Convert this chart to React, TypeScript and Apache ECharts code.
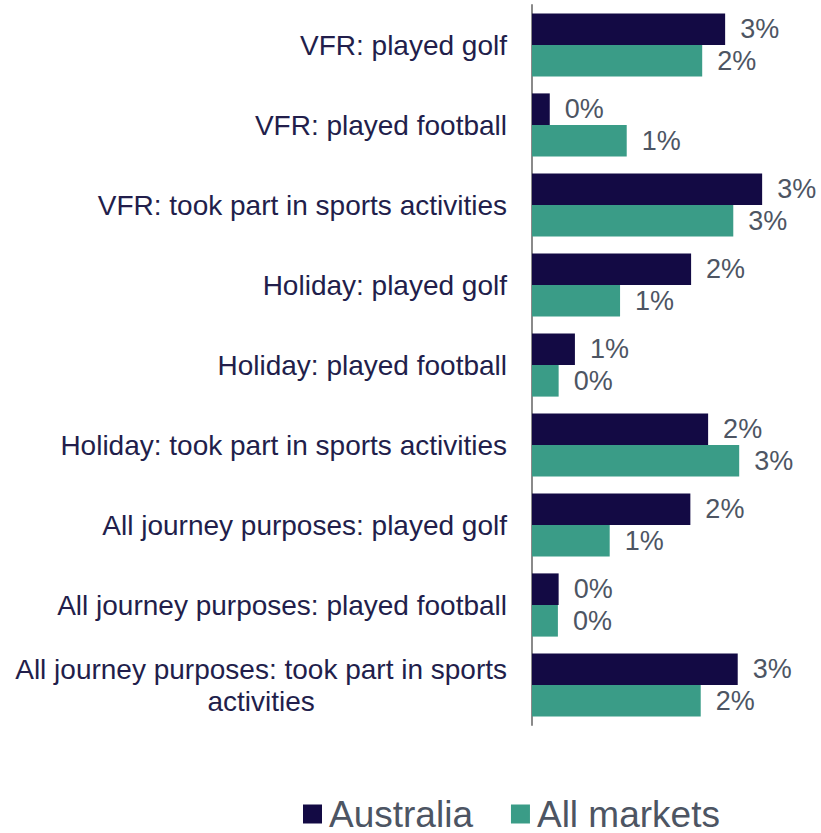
import React, { useEffect, useRef } from "react";
import * as echarts from "echarts";

const categories = [
  "VFR: played golf",
  "VFR: played football",
  "VFR: took part in sports activities",
  "Holiday: played golf",
  "Holiday: played football",
  "Holiday: took part in sports activities",
  "All journey purposes: played golf",
  "All journey purposes: played football",
  "All journey purposes: took part in sports\nactivities",
];

const australia = [2.61, 0.24, 3.11, 2.15, 0.58, 2.38, 2.14, 0.36, 2.78];
const allMarkets = [2.3, 1.28, 2.72, 1.19, 0.36, 2.8, 1.05, 0.35, 2.28];

const seriesNames = ["Australia", "All markets"];
const colors = ["#130a44", "#3a9c87"];

const FONT = "'Liberation Sans', Arial, sans-serif";

export default function App() {
  const ref = useRef<HTMLDivElement>(null);

  useEffect(() => {
    if (!ref.current) return;
    const chart = echarts.init(ref.current, undefined, { renderer: "svg" });
    const valueLabel = {
      show: true,
      position: "right" as const,
      distance: 15,
      color: "#4d5563",
      fontSize: 27,
      fontFamily: FONT,
      formatter: (p: any) => Math.round(p.value) + "%",
    };
    chart.setOption({
      animation: false,
      backgroundColor: "#ffffff",
      textStyle: { fontFamily: FONT },
      grid: { left: 532, top: 5, right: 30, bottom: 108, containLabel: false },
      legend: {
        data: seriesNames,
        left: 303,
        top: 795,
        padding: 0,
        icon: "rect",
        itemWidth: 19,
        itemHeight: 19,
        itemGap: 38,
        textStyle: {
          fontSize: 37,
          color: "#4d5563",
          fontFamily: FONT,
          lineHeight: 38,
          padding: [0, 0, 0, 2],
        },
      },
      xAxis: {
        type: "value",
        min: 0,
        max: 3.5,
        show: false,
        splitLine: { show: false },
      },
      yAxis: {
        type: "category",
        data: categories,
        inverse: true,
        axisLine: { show: true, lineStyle: { color: "#8a8a8a", width: 2 } },
        axisTick: { show: false },
        axisLabel: {
          margin: 25,
          fontSize: 28,
          color: "#221e4b",
          fontFamily: FONT,
          lineHeight: 32,
          formatter: (v: string) =>
            v
              .split("\n")
              .map((line) => "{c|" + line + "}")
              .join("\n"),
          rich: {
            c: {
              align: "center",
              fontSize: 28,
              color: "#221e4b",
              fontFamily: FONT,
              lineHeight: 32,
            },
          },
        },
      },
      series: [
        {
          name: seriesNames[0],
          type: "bar",
          data: australia,
          itemStyle: { color: colors[0] },
          barGap: "0%",
          barCategoryGap: "21%",
          label: valueLabel,
        },
        {
          name: seriesNames[1],
          type: "bar",
          data: allMarkets,
          itemStyle: { color: colors[1] },
          barGap: "0%",
          barCategoryGap: "21%",
          label: valueLabel,
        },
      ],
    });
    return () => chart.dispose();
  }, []);

  return (
    <div
      ref={ref}
      style={{ position: "fixed", left: 0, top: 0, width: 821, height: 833 }}
    />
  );
}
